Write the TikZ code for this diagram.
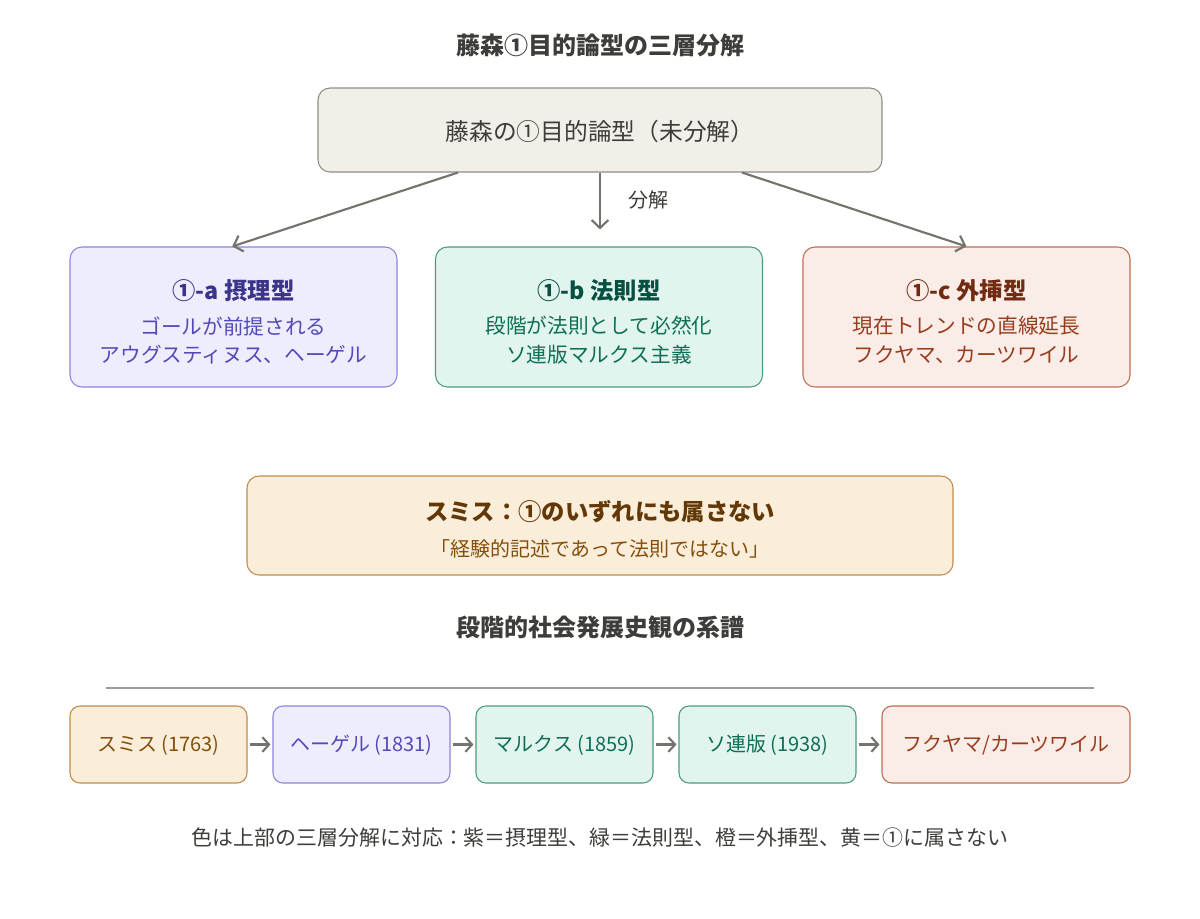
\documentclass[tikz,border=0pt]{standalone}
\usepackage{fontspec}
\setmainfont{Noto Sans CJK JP}
\usetikzlibrary{arrows.meta}
\definecolor{txtgray}{HTML}{3D3D3A}
\definecolor{boxgray}{HTML}{F1EFE8}
\definecolor{bordgray}{HTML}{8E8D87}
\definecolor{arrgray}{HTML}{74736D}
\definecolor{purfill}{HTML}{EEEDFE}
\definecolor{purbord}{HTML}{8C84DC}
\definecolor{purtitle}{HTML}{3C3489}
\definecolor{purtext}{HTML}{534AB7}
\definecolor{grnfill}{HTML}{E1F5EE}
\definecolor{grnbord}{HTML}{4A9C7E}
\definecolor{grntitle}{HTML}{085041}
\definecolor{grntext}{HTML}{0F6E56}
\definecolor{corfill}{HTML}{FAECE7}
\definecolor{corbord}{HTML}{C06E55}
\definecolor{cortitle}{HTML}{712B13}
\definecolor{cortext}{HTML}{993C1D}
\definecolor{ambfill}{HTML}{FAEEDA}
\definecolor{ambbord}{HTML}{BE8C4A}
\definecolor{ambtitle}{HTML}{633806}
\definecolor{ambtext}{HTML}{854F0B}
\definecolor{rulegray}{HTML}{9C9B95}
\begin{document}
\begin{tikzpicture}[x=0.75pt,y=-0.75pt,
  box/.style={draw, line width=0.8pt, rounded corners=9pt, inner sep=0pt},
  sbox/.style={draw, line width=0.8pt, rounded corners=7.5pt, inner sep=0pt, minimum width=132.75pt, minimum height=57.75pt},
  purbox/.style={box, fill=purfill, draw=purbord},
  grnbox/.style={box, fill=grnfill, draw=grnbord},
  corbox/.style={box, fill=corfill, draw=corbord},
  ambbox/.style={box, fill=ambfill, draw=ambbord},
  bigbox/.style={minimum width=245.25pt, minimum height=105pt},
  head/.style={font=\fontsize{18}{20}\selectfont\bfseries, text=txtgray, inner sep=0pt},
  btitle/.style={font=\fontsize{17.5}{20}\selectfont\bfseries, inner sep=0pt},
  btext/.style={font=\fontsize{15.5}{18}\selectfont, inner sep=0pt},
  ltext/.style={font=\fontsize{15}{18}\selectfont, inner sep=0pt},
  arr/.style={draw=arrgray, line width=1.6pt, -{Straight Barb[length=6pt,width=12.5pt,line width=1.6pt]}},
  sarr/.style={draw=arrgray, line width=1.6pt, -{Straight Barb[length=5pt,width=11pt,line width=1.6pt]}, shorten <=1.5pt, shorten >=1.5pt}
]
\useasboundingbox[fill=white] (0,0) rectangle (1200,918);

% title
\node[head] (title) at (600,45) {藤森①目的論型の三層分解};

% top box
\node[box, fill=boxgray, draw=bordgray, minimum width=423pt, minimum height=63pt] (top) at (600,130) {};
\node[font=\fontsize{17.8}{20}\selectfont, text=txtgray, inner sep=0pt] (toptext) at (600,131) {藤森の①目的論型（未分解）};

% three boxes
\node[purbox, bigbox] (boxa) at (233.5,317) {};
\node[grnbox, bigbox] (boxb) at (599,317) {};
\node[corbox, bigbox] (boxc) at (966.5,317) {};

\node[btitle, text=purtitle] (ta) at (233.5,291) {①-a 摂理型};
\node[btext, text=purtext] (a1) at (233.5,326) {ゴールが前提される};
\node[btext, text=purtext] (a2) at (233.5,355) {アウグスティヌス、ヘーゲル};

\node[btitle, text=grntitle] (tb) at (599,291) {①-b 法則型};
\node[btext, text=grntext] (b1) at (599,326) {段階が法則として必然化};
\node[btext, text=grntext] (b2) at (599,355) {ソ連版マルクス主義};

\node[btitle, text=cortitle] (tc) at (966.5,291) {①-c 外挿型};
\node[btext, text=cortext] (c1) at (966.5,326) {現在トレンドの直線延長};
\node[btext, text=cortext] (c2) at (966.5,355) {フクヤマ、カーツワイル};

% arrows
\draw[arr] ([xshift=-106.5pt]top.south) -- ([xshift=-1pt]boxa.north);
\draw[arr, shorten >=12.75pt] (top.south) -- (boxb.north -| top.south);
\draw[arr] ([xshift=106.5pt]top.south) -- (boxc.north);
\node[ltext, text=txtgray] (lab) at (648,200) {分解};

% smith box
\node[ambbox, minimum width=529.5pt, minimum height=74.25pt] (smith) at (600,525.5) {};
\node[btitle, text=ambtitle] (st) at (600,512) {スミス：①のいずれにも属さない};
\node[ltext, text=ambtext] (ss) at (600,549) {「経験的記述であって法則ではない」};

% section title
\node[head] (sec) at (600,627) {段階的社会発展史観の系譜};
\coordinate (rl) at (106,688);
\coordinate (rr) at (1094,688);
\draw[rulegray, line width=0.8pt] (rl) -- (rr);

% lineage boxes
\node[sbox, fill=ambfill, draw=ambbord] (l1) at (158.5,744.5) {};
\node[sbox, fill=purfill, draw=purbord] (l2) at (361.5,744.5) {};
\node[sbox, fill=grnfill, draw=grnbord] (l3) at (564.5,744.5) {};
\node[sbox, fill=grnfill, draw=grnbord] (l4) at (767.5,744.5) {};
\node[sbox, fill=corfill, draw=corbord, minimum width=186pt] (l5) at (1006,744.5) {};

\node[ltext, text=ambtext] (l1t) at (158.5,745) {スミス (1763)};
\node[ltext, text=purtext] (l2t) at (361.5,745) {ヘーゲル (1831)};
\node[ltext, text=grntext] (l3t) at (564.5,745) {マルクス (1859)};
\node[ltext, text=grntext] (l4t) at (767.5,745) {ソ連版 (1938)};
\node[ltext, text=cortext] (l5t) at (1006,745) {フクヤマ/カーツワイル};

\draw[sarr] (l1.east) -- (l2.west);
\draw[sarr] (l2.east) -- (l3.west);
\draw[sarr] (l3.east) -- (l4.west);
\draw[sarr] (l4.east) -- (l5.west);

% footer
\node[font=\fontsize{15.7}{18}\selectfont, inner sep=0pt, text=txtgray] (foot) at (600,838) {色は上部の三層分解に対応：紫＝摂理型、緑＝法則型、橙＝外挿型、黄＝①に属さない};
\end{tikzpicture}
\end{document}
